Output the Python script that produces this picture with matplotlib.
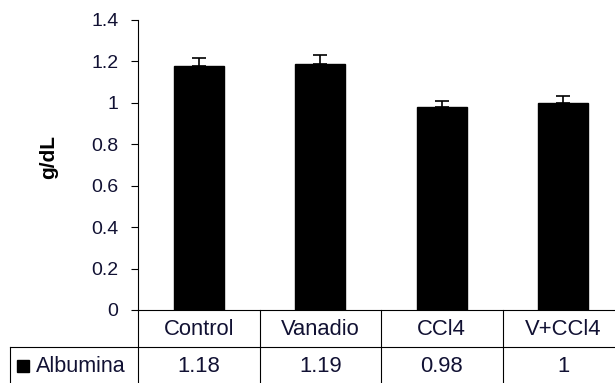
import matplotlib
matplotlib.use("Agg")
import matplotlib.pyplot as plt
import matplotlib.transforms as mtransforms

# chart data
categories = ["Control", "Vanadio", "CCl4", "V+CCl4"]
albumina = [1.18, 1.19, 0.98, 1.0]
albumina_err = [0.035, 0.04, 0.03, 0.033]
value_labels = ["1.18", "1.19", "0.98", "1"]
series_name = "Albumina"
yticks = [0, 0.2, 0.4, 0.6, 0.8, 1.0, 1.2, 1.4]
ytick_labels = ["0", "0.2", "0.4", "0.6", "0.8", "1", "1.2", "1.4"]

FONT = "Liberation Sans"
TICK_FS = 14
TABLE_FS = 15.8
TXT = "#111133"
LINE = 0.8

plt.rcParams["font.family"] = [FONT, "DejaVu Sans"]

W, H = 615, 383
fig = plt.figure(figsize=(W / 100, H / 100), dpi=100)
fig.set_facecolor("white")

# plot area in pixels: x 138..624 (cut by image edge), y 20..310
ax = fig.add_axes([138 / W, (H - 310) / H, 486 / W, 290 / H])

x = list(range(len(categories)))
ax.bar(x, albumina, width=0.41, color="black", edgecolor="black", zorder=2)
ax.errorbar(x, albumina, yerr=[[0] * len(x), albumina_err], fmt="none",
            ecolor="black", elinewidth=1.2, capsize=5, capthick=1.2, zorder=3)

ax.set_xlim(-0.5, len(categories) - 0.5)
ax.set_ylim(0, 1.4)
ax.set_yticks(yticks)
ax.set_yticklabels(ytick_labels, fontsize=TICK_FS, color=TXT)
ax.set_xticks([])
ax.tick_params(axis="y", direction="out", length=5, width=LINE, pad=9)

for s in ["top", "right"]:
    ax.spines[s].set_visible(False)
for s in ["left", "bottom"]:
    ax.spines[s].set_linewidth(LINE)

fig.text(49 / W, (H - 157) / H, "g/dL", rotation=90, ha="center", va="center",
         fontsize=15, fontweight="bold")

# data table under the axis
trans = mtransforms.blended_transform_factory(ax.transData, ax.transAxes)
row_h = 37 / 290
left_x = -0.5 - 128 / 121.5
right_x = len(categories) - 0.5
kw = dict(color="black", lw=LINE, transform=trans, clip_on=False)

ax.plot([-0.5, -0.5], [0, -2 * row_h], **kw)
ax.plot([left_x, right_x], [-row_h, -row_h], **kw)
ax.plot([left_x, right_x], [-2 * row_h, -2 * row_h], **kw)
ax.plot([left_x, left_x], [-row_h, -2 * row_h], **kw)
for i in range(1, len(categories) + 1):
    ax.plot([i - 0.5, i - 0.5], [0, -2 * row_h], **kw)

for i, (cat, val) in enumerate(zip(categories, value_labels)):
    ax.text(i, -row_h / 2 - 0.004, cat, transform=trans, ha="center",
            va="center", fontsize=TABLE_FS, color=TXT)
    ax.text(i, -1.5 * row_h - 0.004, val, transform=trans, ha="center",
            va="center", fontsize=TABLE_FS, color=TXT)

ax.plot([-0.5 - 115 / 121.5], [-1.5 * row_h], marker="s", ms=8.5,
        color="black", transform=trans, clip_on=False)
ax.text(-0.5 - 102 / 121.5, -1.5 * row_h - 0.004, series_name, transform=trans,
        ha="left", va="center", fontsize=15.5, color=TXT)

fig.savefig("out.png", dpi=100)
